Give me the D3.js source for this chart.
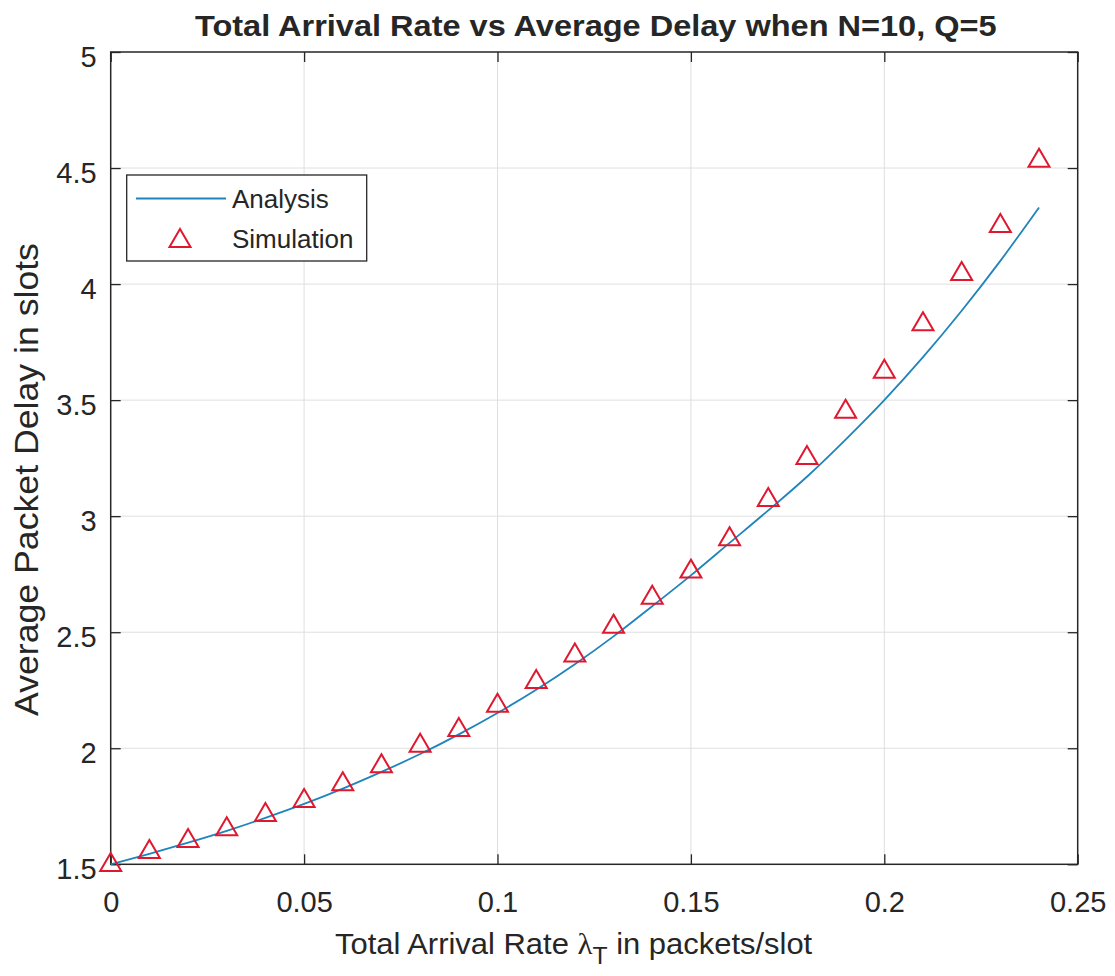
<!DOCTYPE html>
<html>
<head>
<meta charset="utf-8">
<script src="https://cdn.jsdelivr.net/npm/d3@7"></script>
<style>
  html, body { margin: 0; padding: 0; background: #fff; }
  svg { display: block; }
  text { font-family: "Liberation Sans", Arial, Helvetica, sans-serif; fill: #262626; }
</style>
</head>
<body>
<svg id="chart" width="1115" height="976"></svg>
<script>
// Arrival rates (packets/slot)
const rates = [0, 0.01, 0.02, 0.03, 0.04, 0.05, 0.06, 0.07, 0.08, 0.09, 0.10, 0.11,
               0.12, 0.13, 0.14, 0.15, 0.16, 0.17, 0.18, 0.19, 0.20, 0.21, 0.22, 0.23, 0.24];
// Analytical average delay (slots)
const analysis = [1.500, 1.545, 1.593, 1.644, 1.700, 1.760, 1.826, 1.898, 1.975, 2.060,
                  2.152, 2.252, 2.362, 2.482, 2.612, 2.745, 2.885, 3.025, 3.170, 3.330,
                  3.500, 3.685, 3.885, 4.100, 4.330];
// Simulated average delay (slots)
const simulation = [1.510, 1.566, 1.613, 1.664, 1.725, 1.786, 1.858, 1.935, 2.024, 2.092,
                    2.196, 2.298, 2.413, 2.537, 2.661, 2.774, 2.914, 3.083, 3.264, 3.463,
                    3.635, 3.840, 4.056, 4.263, 4.544];
const xTicks = [0, 0.05, 0.1, 0.15, 0.2, 0.25];
const xTickLabels = ["0", "0.05", "0.1", "0.15", "0.2", "0.25"];
const yTicks = [1.5, 2, 2.5, 3, 3.5, 4, 4.5, 5];
const yTickLabels = ["1.5", "2", "2.5", "3", "3.5", "4", "4.5", "5"];

const svg = d3.select("#chart");
const L = 110.7, R = 1077.7, T = 52, B = 864.3;
const x = d3.scaleLinear().domain([0, 0.25]).range([L, R]);
const y = d3.scaleLinear().domain([1.5, 5]).range([B, T]);

const axisColor = "#262626";
const tickLen = 10;

// stretch a text element horizontally (in its own frame) to a given advance width
function fitWidth(sel, target) {
  const w = sel.node().getBBox().width;
  const k = target / w;
  const t = sel.attr("transform") || "";
  sel.attr("transform", `${t} scale(${k},1)`);
}

// grid
const grid = svg.append("g");
grid.selectAll(".gx").data(xTicks.slice(1, -1)).join("line")
  .attr("x1", d => x(d)).attr("x2", d => x(d)).attr("y1", T).attr("y2", B)
  .attr("stroke", "#dfdfdf").attr("stroke-width", 1);
grid.selectAll(".gy").data(yTicks.slice(1, -1)).join("line")
  .attr("y1", d => y(d)).attr("y2", d => y(d)).attr("x1", L).attr("x2", R)
  .attr("stroke", "#dfdfdf").attr("stroke-width", 1);

// axes (ticks point inward, mirrored on top/right)
const fmtX = d => xTickLabels[xTicks.indexOf(d)];
const fmtY = d => yTickLabels[yTicks.indexOf(d)];
const styleAxis = g => {
  g.select(".domain").remove();
  g.selectAll("line").attr("stroke", axisColor).attr("stroke-width", 1.3);
  g.selectAll("text").attr("fill", axisColor).style("font-size", "29px");
};
svg.append("g").attr("transform", `translate(0,${B})`)
  .call(d3.axisBottom(x).tickValues(xTicks).tickFormat(fmtX).tickSizeInner(-tickLen).tickSizeOuter(0).tickPadding(27))
  .call(styleAxis);
svg.append("g").attr("transform", `translate(0,${T})`)
  .call(d3.axisTop(x).tickValues(xTicks).tickFormat("").tickSizeInner(-tickLen).tickSizeOuter(0))
  .call(styleAxis);
svg.append("g").attr("transform", `translate(${L},0)`)
  .call(d3.axisLeft(y).tickValues(yTicks).tickFormat(fmtY).tickSizeInner(-tickLen).tickSizeOuter(0).tickPadding(14))
  .call(styleAxis)
  .call(g => g.selectAll("text").attr("dy", "0.5em"));
svg.append("g").attr("transform", `translate(${R},0)`)
  .call(d3.axisRight(y).tickValues(yTicks).tickFormat("").tickSizeInner(-tickLen).tickSizeOuter(0))
  .call(styleAxis);

// box
svg.append("rect").attr("x", L).attr("y", T).attr("width", R - L).attr("height", B - T)
  .attr("fill", "none").attr("stroke", axisColor).attr("stroke-width", 1.5);

// analysis curve
const lineColor = "#1f84bb";
const markColor = "#e0182f";
const pts = rates.map((r, i) => [r, analysis[i]]);
svg.append("path").datum(pts)
  .attr("d", d3.line().x(d => x(d[0])).y(d => y(d[1])).curve(d3.curveMonotoneX))
  .attr("fill", "none").attr("stroke", lineColor).attr("stroke-width", 1.8);

// simulation markers
const tri = (w, h) => `M0,${-h / 2}L${w / 2},${h / 2}L${-w / 2},${h / 2}Z`;
svg.append("g").selectAll("path").data(rates.map((r, i) => [r, simulation[i]])).join("path")
  .attr("transform", d => `translate(${x(d[0])},${y(d[1])})`)
  .attr("d", tri(21, 18))
  .attr("fill", "none").attr("stroke", markColor).attr("stroke-width", 2);

// title
const title = svg.append("text").attr("transform", "translate(195,36)")
  .style("font-size", "29px").style("font-weight", "bold").attr("fill", "#000")
  .text("Total Arrival Rate vs Average Delay when N=10, Q=5");
fitWidth(title, 802);

// x label with subscript
const xl = svg.append("text").attr("transform", "translate(335,954)")
  .style("font-size", "30px");
xl.append("tspan").text("Total Arrival Rate ");
xl.append("tspan").style("font-family", "'Liberation Serif', 'DejaVu Serif', serif").text("λ");
xl.append("tspan").attr("dy", 10).style("font-size", "24px").text("T");
xl.append("tspan").attr("dy", -10).text(" in packets/slot");
fitWidth(xl, 478);

// y label
const yl = svg.append("text").attr("transform", "translate(38,479.5) rotate(-90)").attr("text-anchor", "middle")
  .style("font-size", "34px").text("Average Packet Delay in slots");
fitWidth(yl, 473);

// legend
const lg = svg.append("g");
lg.append("rect").attr("x", 126.7).attr("y", 175).attr("width", 240).attr("height", 86)
  .attr("fill", "#fff").attr("stroke", axisColor).attr("stroke-width", 1.3);
lg.append("line").attr("x1", 136).attr("x2", 226).attr("y1", 198.5).attr("y2", 198.5)
  .attr("stroke", lineColor).attr("stroke-width", 1.8);
lg.append("path").attr("transform", "translate(180,238)").attr("d", tri(21, 18))
  .attr("fill", "none").attr("stroke", markColor).attr("stroke-width", 2);
lg.append("text").attr("x", 232).attr("y", 208).style("font-size", "26px").text("Analysis");
lg.append("text").attr("x", 232).attr("y", 248).style("font-size", "26px").text("Simulation");
</script>
</body>
</html>
